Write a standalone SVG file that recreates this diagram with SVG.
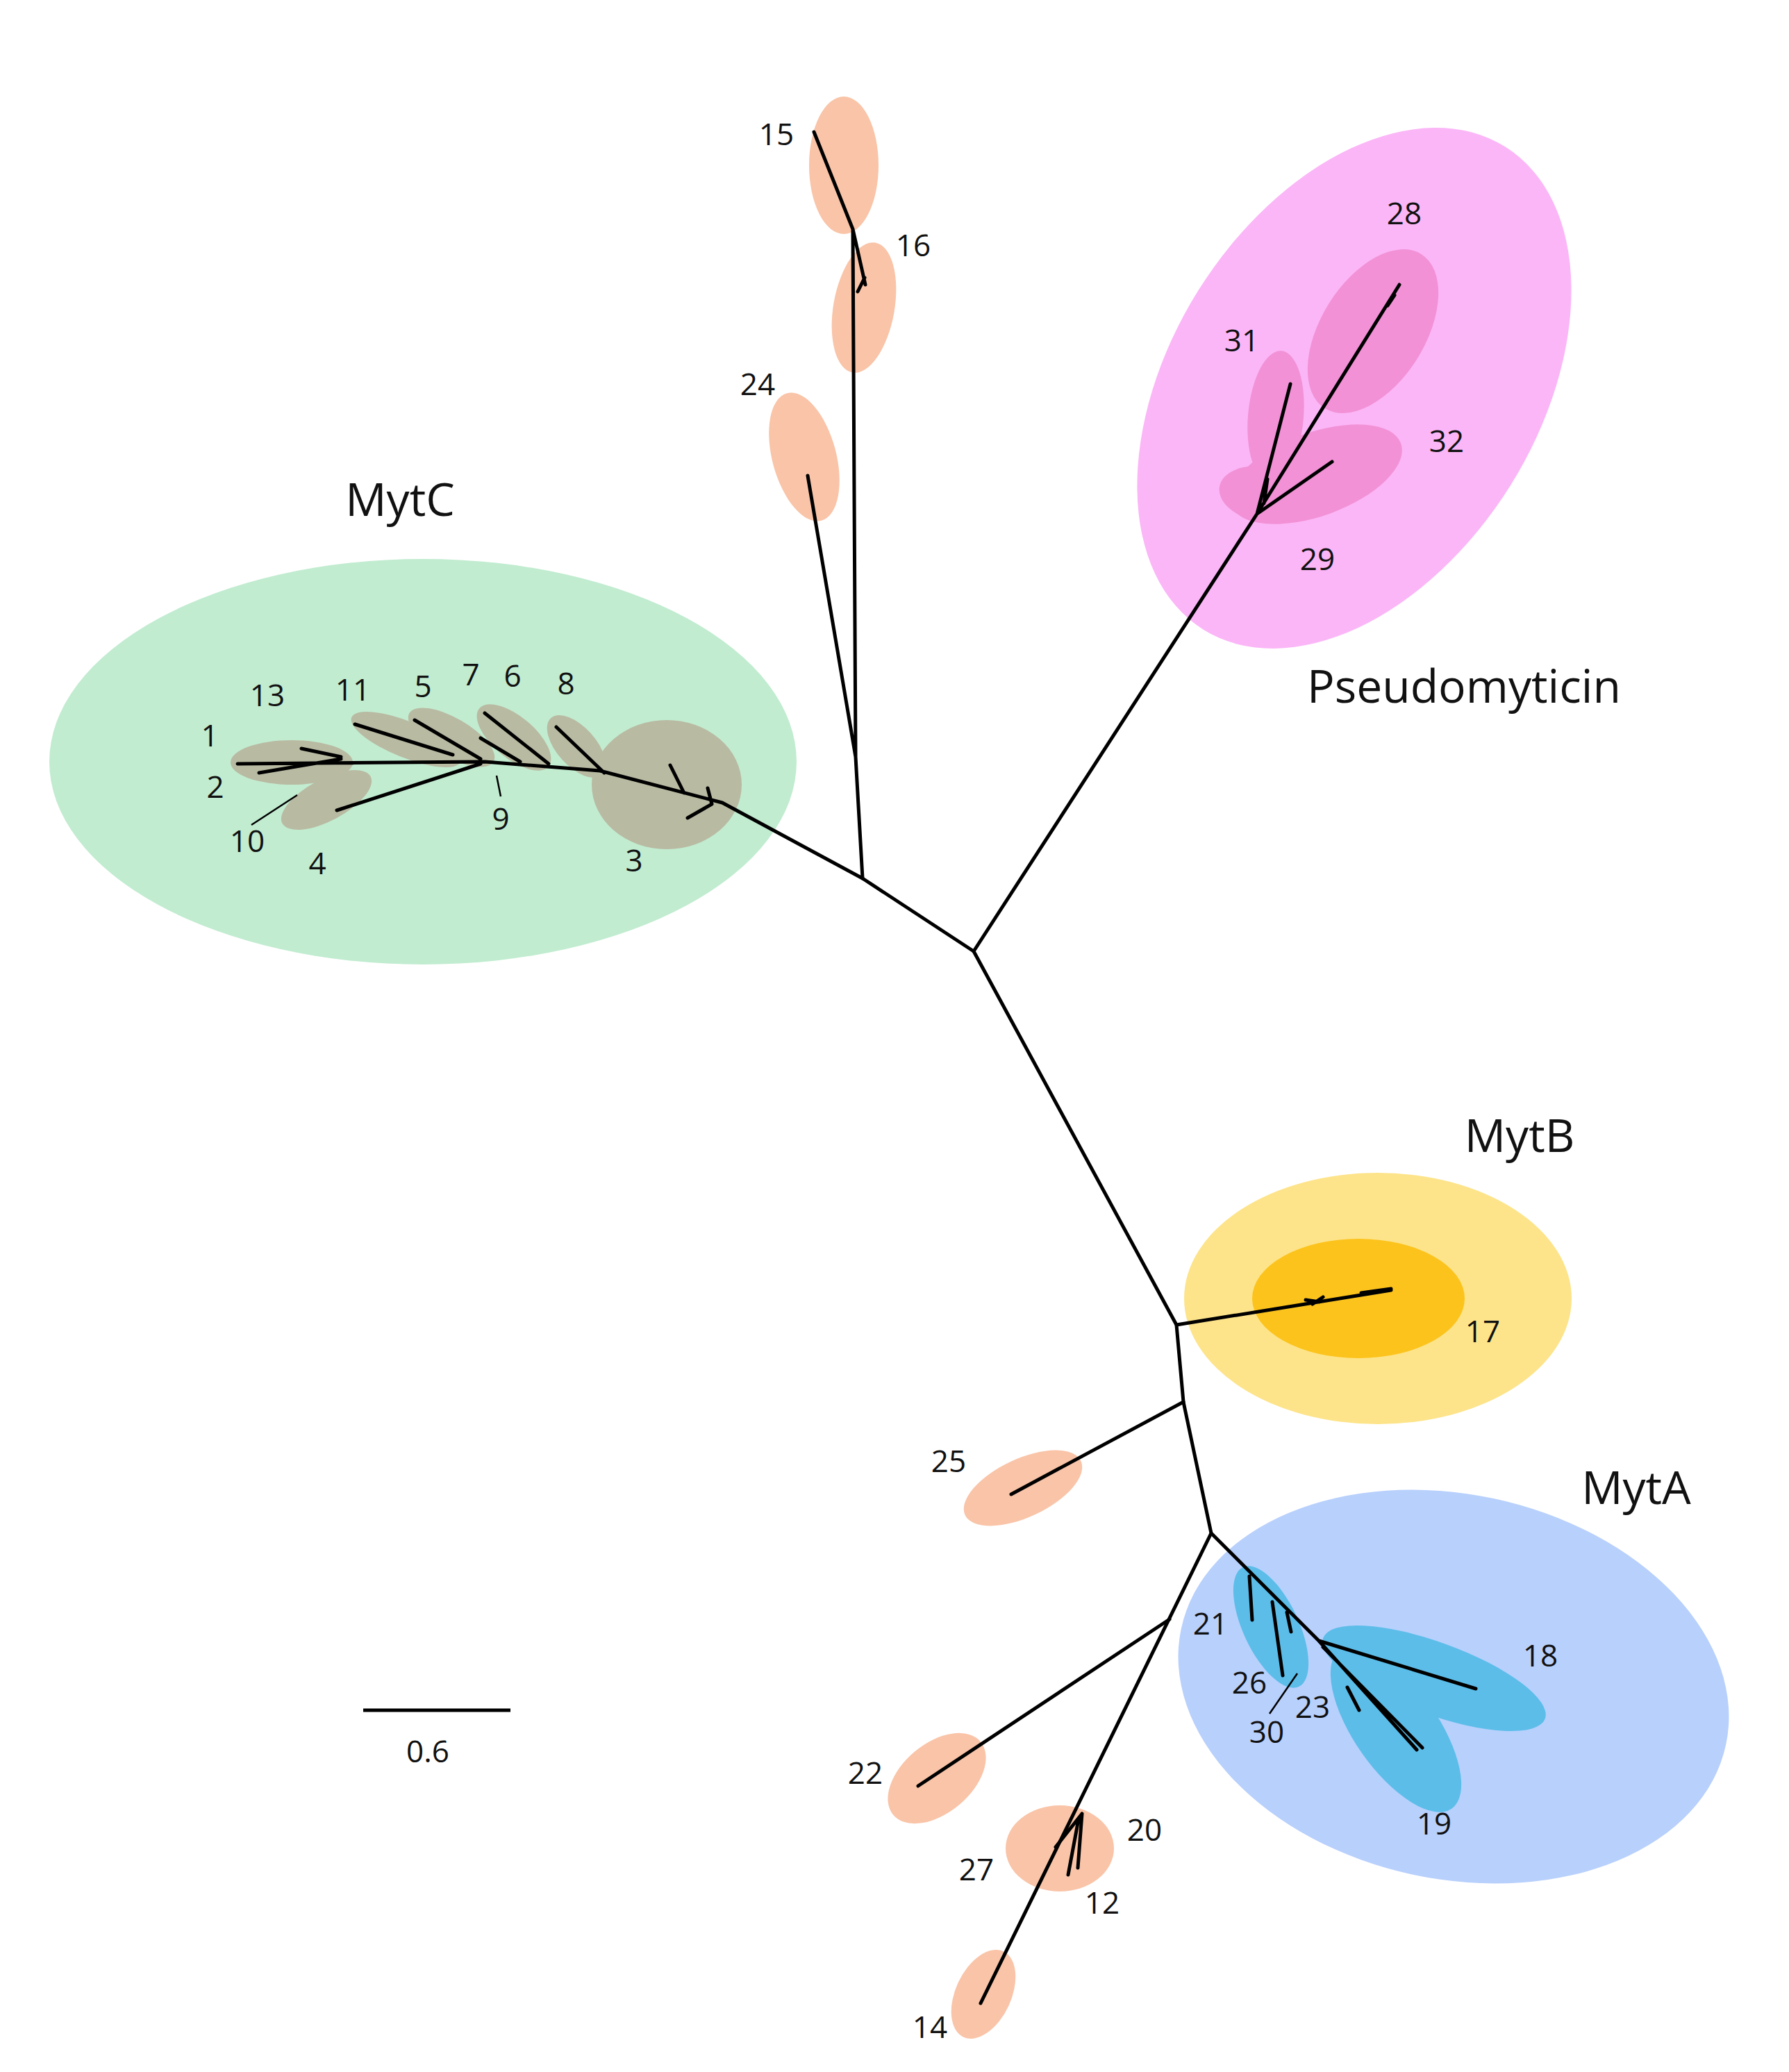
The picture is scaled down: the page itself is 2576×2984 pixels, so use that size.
<svg xmlns="http://www.w3.org/2000/svg" width="2576" height="2984" viewBox="0 0 2576 2984">
<style>
.t{font-family:"Open Sans","Liberation Sans",sans-serif;font-size:44px;fill:#111;text-anchor:middle;dominant-baseline:middle}
.big{font-size:66px}
.br{stroke:#000;stroke-width:5;fill:none;stroke-linecap:round;stroke-linejoin:round}
.tk{stroke:#000;stroke-width:2.5;fill:none}
.or{fill:#f9c4a8}
.gr{fill:#b9baa2}
.pk{fill:#f291d6}
.bl{fill:#5cbde9}
</style>
<rect width="2576" height="2984" fill="#fff"/>
<g id="MytC">
<ellipse cx="609" cy="1097" rx="538" ry="292" fill="#c1ecd0"/>
<ellipse class="gr" cx="960" cy="1130" rx="108" ry="93"/>
<ellipse class="gr" cx="420" cy="1098" rx="88" ry="32"/>
<ellipse class="gr" cx="470" cy="1152" rx="72" ry="30" transform="rotate(-28 470 1152)"/>
<ellipse class="gr" cx="585" cy="1065" rx="85" ry="26" transform="rotate(22 585 1065)"/>
<ellipse class="gr" cx="650" cy="1062" rx="70" ry="28" transform="rotate(30 650 1062)"/>
<ellipse class="gr" cx="740" cy="1062" rx="65" ry="30" transform="rotate(40 740 1062)"/>
<ellipse class="gr" cx="830" cy="1075" rx="55" ry="28" transform="rotate(48 830 1075)"/>
<text class="t big" x="576" y="725">MytC</text>
</g>
<g id="Pseudomyticin">
<ellipse cx="1950" cy="559" rx="410" ry="265" fill="#fbb6f7" transform="rotate(-58 1950 559)"/>
<ellipse class="pk" cx="1977" cy="477" rx="131" ry="75" transform="rotate(-58 1977 477)"/>
<ellipse class="pk" cx="1837" cy="600" rx="95" ry="40" transform="rotate(-85 1837 600)"/>
<ellipse class="pk" cx="1895" cy="683" rx="130" ry="60" transform="rotate(-20 1895 683)"/>
<ellipse class="pk" cx="1820" cy="712" rx="65" ry="40" transform="rotate(10 1820 712)"/>
<text class="t big" x="2108" y="994">Pseudomyticin</text>
</g>
<g id="MytB">
<ellipse cx="1984" cy="1870" rx="279" ry="181" fill="#fde48a"/>
<ellipse cx="1956" cy="1870" rx="153" ry="86" fill="#fcc31d"/>
<text class="t big" x="2188" y="1641">MytB</text>
</g>
<g id="MytA">
<ellipse cx="2093" cy="2429" rx="401" ry="277" fill="#b8d0fc" transform="rotate(12 2093 2429)"/>
<ellipse class="bl" cx="2065" cy="2417" rx="170" ry="52" transform="rotate(20 2065 2417)"/>
<ellipse class="bl" cx="2010" cy="2490" rx="140" ry="60" transform="rotate(55 2010 2490)"/>
<ellipse class="bl" cx="1830" cy="2343" rx="95" ry="40" transform="rotate(65 1830 2343)"/>
<text class="t big" x="2356" y="2148">MytA</text>
</g>
<g id="singletons">
<ellipse class="or" cx="1215" cy="238" rx="50" ry="99"/>
<ellipse class="or" cx="1244" cy="443" rx="44" ry="95" transform="rotate(10 1244 443)"/>
<ellipse class="or" cx="1158" cy="658" rx="46" ry="95" transform="rotate(-15 1158 658)"/>
<ellipse class="or" cx="1473" cy="2143" rx="92" ry="42" transform="rotate(-25 1473 2143)"/>
<ellipse class="or" cx="1349" cy="2561" rx="82" ry="50" transform="rotate(-40 1349 2561)"/>
<ellipse class="or" cx="1526" cy="2662" rx="78" ry="62"/>
<ellipse class="or" cx="1416" cy="2872" rx="40" ry="68" transform="rotate(25 1416 2872)"/>
</g>
<g id="connectors">
<path class="br" d="M1242,1265 L1402,1370 L1694,1908 L1704,2019 L1744,2208 L1412,2885"/>
<path class="br" d="M1704,2019 L1456,2152"/>
<path class="br" d="M1684,2332 L1322,2572"/>
<path class="br" d="M1694,1908 L2003,1858 M1900,1875 L1880,1872 M1960,1862 L2003,1856 M1890,1878 L1905,1868"/>
<path class="br" d="M1402,1370 L1810,740 L2015,410 M1810,740 L1858,553 M1810,740 L1918,665 M1998,440 L2008,425 M1820,725 L1825,690"/>
<path class="br" d="M1242,1265 L1232,1090 L1163,685 M1232,1090 L1228,330 L1172,190 M1228,330 L1246,410 M1235,420 L1245,400"/>
<path class="br" d="M1242,1265 L1040,1156 L864,1110 L698,1097 L342,1100 M511,1043 L652,1087 M597,1037 L692,1093 M698,1027 L790,1100 M801,1047 L870,1113 M692,1063 L749,1097 M485,1167 L692,1100 M373,1113 L491,1093 M434,1078 L491,1090 M965,1102 L985,1142 M1019,1135 L1025,1158 M990,1178 L1025,1158"/>
<path class="tk" d="M715,1117 L721,1147 M428,1145 L362,1188"/>
<path class="br" d="M1744,2208 L1899,2363 L2125,2432 M1899,2363 L2040,2520 M1905,2372 L2048,2517 M1799,2270 L1803,2333 M1832,2307 L1847,2413 M1853,2322 L1859,2350 M1940,2430 L1957,2463"/>
<path class="tk" d="M1868,2410 L1828,2468"/>
<path class="br" d="M1558,2612 L1520,2660 M1553,2620 L1538,2700 M1558,2612 L1552,2690"/>
</g>
<g id="labels">
<text class="t" x="302" y="1063">1</text><text class="t" x="385" y="1005">13</text><text class="t" x="508" y="997">11</text>
<text class="t" x="609" y="992">5</text><text class="t" x="678" y="975">7</text><text class="t" x="738" y="977">6</text>
<text class="t" x="815" y="988">8</text><text class="t" x="310" y="1137">2</text><text class="t" x="356" y="1215">10</text>
<text class="t" x="457" y="1247">4</text><text class="t" x="721" y="1183">9</text><text class="t" x="913" y="1243">3</text>
<text class="t" x="2022" y="311">28</text><text class="t" x="1788" y="494">31</text><text class="t" x="2083" y="639">32</text><text class="t" x="1897" y="809">29</text>
<text class="t" x="2135" y="1921">17</text>
<text class="t" x="1743" y="2342">21</text><text class="t" x="1799" y="2427">26</text><text class="t" x="1890" y="2462">23</text>
<text class="t" x="1824" y="2498">30</text><text class="t" x="2218" y="2388">18</text><text class="t" x="2065" y="2630">19</text>
<text class="t" x="1118" y="197">15</text><text class="t" x="1315" y="357">16</text><text class="t" x="1091" y="557">24</text>
<text class="t" x="1366" y="2108">25</text><text class="t" x="1246" y="2557">22</text><text class="t" x="1406" y="2696">27</text>
<text class="t" x="1648" y="2639">20</text><text class="t" x="1587" y="2744">12</text><text class="t" x="1339" y="2923">14</text>
</g>
<g id="scale">
<line x1="523" y1="2463" x2="735" y2="2463" stroke="#000" stroke-width="5"/>
<text class="t" x="616" y="2526">0.6</text>
</g>
</svg>
